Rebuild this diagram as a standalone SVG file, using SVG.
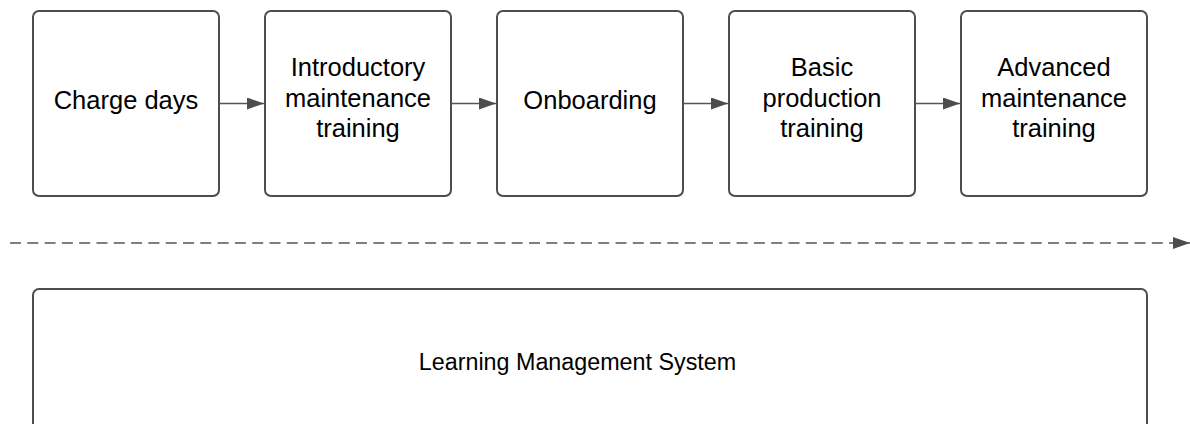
<svg xmlns="http://www.w3.org/2000/svg" width="1190" height="424" viewBox="0 0 1190 424">
<style>
.box{fill:#ffffff;stroke:#4d4d4d;stroke-width:2}
.t{font-family:"Liberation Sans",Arial,sans-serif;font-size:25.5px;fill:#000;text-anchor:middle}
.tb{font-family:"Liberation Sans",Arial,sans-serif;font-size:23.3px;fill:#000;text-anchor:middle}
.c{stroke:#555555;stroke-width:1.6;fill:none}
</style>
<defs>
<marker id="ah" markerWidth="17" markerHeight="12" refX="17" refY="6" orient="auto" markerUnits="userSpaceOnUse">
<path d="M0,0 L17,6 L0,12 Z" fill="#4d4d4d"/>
</marker>
</defs>
<rect width="1190" height="424" fill="#ffffff"/>
<g id="charge-days">
<rect class="box" x="33" y="11" width="186" height="185" rx="6"/>
<text class="t" x="126" y="109.3">Charge days</text>
</g>
<g id="intro-maintenance">
<rect class="box" x="265" y="11" width="186" height="185" rx="6"/>
<text class="t" x="358" y="76">Introductory</text>
<text class="t" x="358" y="106.7">maintenance</text>
<text class="t" x="358" y="137">training</text>
</g>
<g id="onboarding">
<rect class="box" x="497" y="11" width="186" height="185" rx="6"/>
<text class="t" x="590" y="109.3">Onboarding</text>
</g>
<g id="basic-production">
<rect class="box" x="729" y="11" width="186" height="185" rx="6"/>
<text class="t" x="822" y="76">Basic</text>
<text class="t" x="822" y="106.7">production</text>
<text class="t" x="822" y="137">training</text>
</g>
<g id="advanced-maintenance">
<rect class="box" x="961" y="11" width="186" height="185" rx="6"/>
<text class="t" x="1054" y="76">Advanced</text>
<text class="t" x="1054" y="106.7">maintenance</text>
<text class="t" x="1054" y="137">training</text>
</g>
<g id="lms">
<rect class="box" x="33" y="289" width="1114" height="150" rx="6"/>
<text class="tb" x="577.5" y="370">Learning Management System</text>
</g>
<g id="connectors">
<line class="c" x1="219" y1="103.5" x2="264" y2="103.5" marker-end="url(#ah)"/>
<line class="c" x1="451" y1="103.5" x2="496" y2="103.5" marker-end="url(#ah)"/>
<line class="c" x1="683" y1="103.5" x2="728" y2="103.5" marker-end="url(#ah)"/>
<line class="c" x1="915" y1="103.5" x2="960" y2="103.5" marker-end="url(#ah)"/>
<line class="c" x1="10" y1="243" x2="1190" y2="243" stroke-dasharray="11 6.3" marker-end="url(#ah)"/>
</g>
</svg>
